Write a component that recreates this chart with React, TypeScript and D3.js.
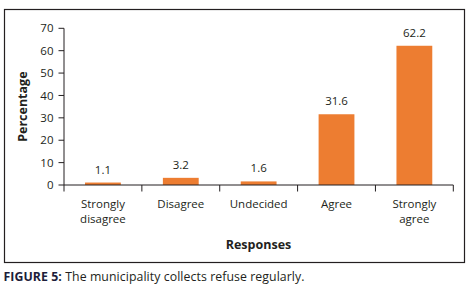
import React from "react";
import * as d3 from "d3";

const categories: string[][] = [
  ["Strongly", "disagree"],
  ["Disagree"],
  ["Undecided"],
  ["Agree"],
  ["Strongly", "agree"],
];
const values: number[] = [1.1, 3.2, 1.6, 31.6, 62.2];
const yTicks: number[] = [0, 10, 20, 30, 40, 50, 60, 70];
const yLabel = "Percentage";
const xLabel = "Responses";
const captionBold = "FIGURE 5:";
const captionText = " The municipality collects refuse regularly.";

const W = 476;
const H = 294;
const FONT = "'Open Sans', 'DejaVu Sans', sans-serif";
const TEXT = "#231f20";
const BAR = "#ed7d31";

export default function App() {
  const keys = categories.map((c) => c.join(" "));
  const x = d3
    .scaleBand<string>()
    .domain(keys)
    .range([64, 453.3])
    .paddingInner(0.54)
    .paddingOuter(0.27);
  const y = d3.scaleLinear().domain([0, 70]).range([185, 28.3]);
  const step = x.step();
  const x0 = 64;
  const bounds = d3.range(keys.length + 1).map((i) => x0 + i * step);

  return (
    <svg
      width={W}
      height={H}
      style={{ position: "absolute", left: 0, top: 0, background: "#fff" }}
      fontFamily={FONT}
    >
      <rect x={4.5} y={9.5} width={460} height={253} fill="none" stroke="#231f20" strokeWidth={1.2} />
      {/* y axis */}
      <line x1={64} x2={64} y1={y(70)} y2={y(0)} stroke="#231f20" strokeWidth={1} />
      {yTicks.map((t) => (
        <g key={t}>
          <line x1={58.5} x2={64} y1={y(t)} y2={y(t)} stroke="#231f20" strokeWidth={1} />
          <text x={53.5} y={y(t)} dy="0.36em" textAnchor="end" fontSize={11.5} fill={TEXT}>
            {t}
          </text>
        </g>
      ))}
      {/* bars */}
      {values.map((v, i) => (
        <g key={keys[i]}>
          <rect x={x(keys[i])!} y={y(v)} width={x.bandwidth()} height={y(0) - y(v)} fill={BAR} />
          <text
            x={x(keys[i])! + x.bandwidth() / 2}
            y={y(v) - 9}
            textAnchor="middle"
            fontSize={11.5}
            fill={TEXT}
          >
            {v.toFixed(1)}
          </text>
        </g>
      ))}
      {/* x axis */}
      <line x1={64} x2={453.3} y1={y(0)} y2={y(0)} stroke="#231f20" strokeWidth={1} />
      {bounds.map((b, i) => (
        <line key={i} x1={b} x2={b} y1={y(0)} y2={y(0) + 6.5} stroke="#231f20" strokeWidth={1} />
      ))}
      {categories.map((lines, i) => (
        <text
          key={keys[i]}
          x={x(keys[i])! + x.bandwidth() / 2}
          y={207.5}
          textAnchor="middle"
          fontSize={11.5}
          fill={TEXT}
        >
          {lines.map((l, j) => (
            <tspan key={j} x={x(keys[i])! + x.bandwidth() / 2} dy={j === 0 ? 0 : 15.6}>
              {l}
            </tspan>
          ))}
        </text>
      ))}
      {/* axis titles */}
      <text
        transform={`translate(26.5, ${(y(0) + y(70)) / 2}) rotate(-90)`}
        textAnchor="middle"
        fontSize={12.5}
        fontWeight="bold"
        fill={TEXT}
      >
        {yLabel}
      </text>
      <text x={258.5} y={249.3} textAnchor="middle" fontSize={12.5} fontWeight="bold" fill={TEXT}>
        {xLabel}
      </text>
      {/* caption */}
      <text x={3.5} y={280.5} fontSize={12.3} fill={TEXT} textLength={301} lengthAdjust="spacing">
        <tspan fontWeight="bold" fill="#1d1d3a">{captionBold}</tspan>
        <tspan>{captionText}</tspan>
      </text>
    </svg>
  );
}
